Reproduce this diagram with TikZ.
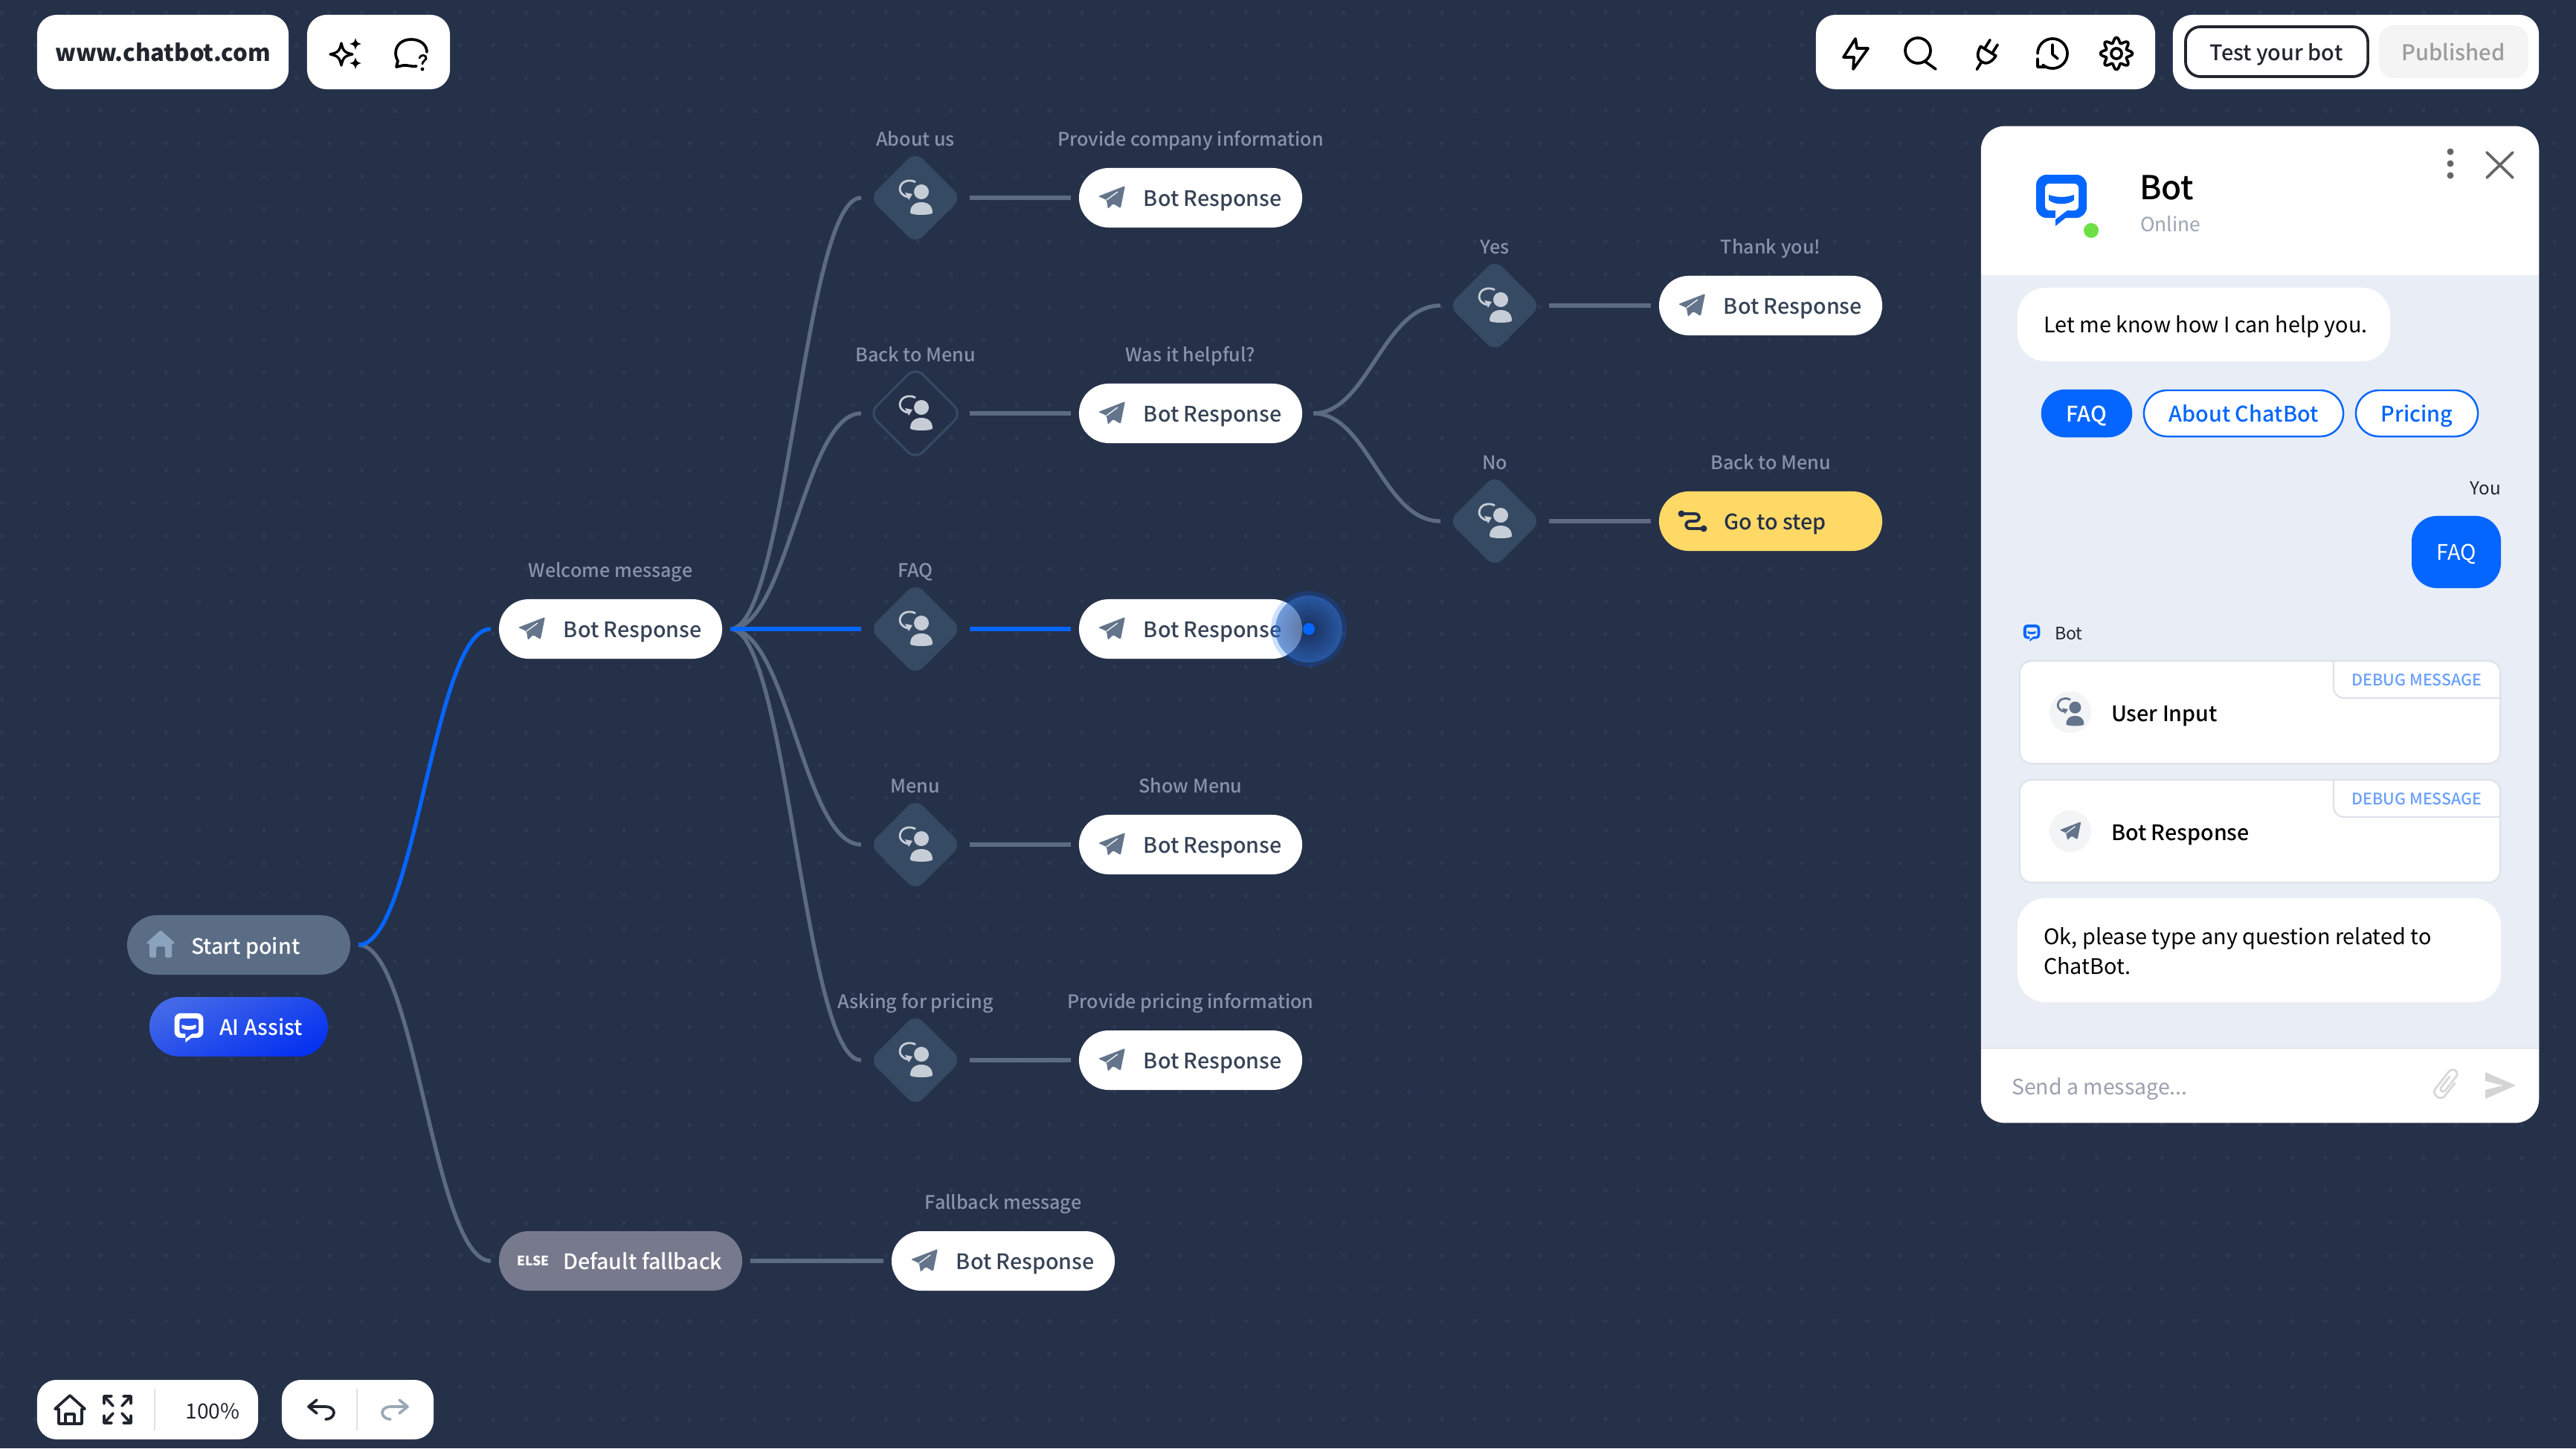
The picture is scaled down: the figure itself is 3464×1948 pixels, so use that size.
\documentclass[tikz,border=0pt]{standalone}
\usepackage{fontspec}
\setmainfont{Noto Sans CJK SC}
\newfontfamily\med{Noto Sans CJK SC Medium}
\usetikzlibrary{calc,shapes.geometric}
\definecolor{bgc}{HTML}{253049}
\definecolor{griddot}{HTML}{2E3A54}
\definecolor{conc}{HTML}{5C6B82}
\definecolor{blu}{HTML}{0566FF}
\definecolor{lab}{HTML}{8693A8}
\definecolor{inkc}{HTML}{364356}
\definecolor{diac}{HTML}{364A63}
\definecolor{dico}{HTML}{C6CDD7}
\definecolor{panelc}{HTML}{E9EDF5}
\definecolor{dark}{HTML}{21252E}
\definecolor{bord}{HTML}{DDE2EA}
\definecolor{icc}{HTML}{64748B}
\definecolor{icb}{HTML}{FFFFFF}
\definecolor{greyx}{HTML}{666666}
\def\logor{.14cm}\def\logoi{.06cm}
\tikzset{
 every node/.style={inner sep=0pt,outer sep=0pt},
 pill/.style={rectangle,rounded corners=.399cm,minimum width=3cm,minimum height=.8cm},
 bar/.style={rectangle,fill=white,rounded corners=.26cm},
 dia/.style={diamond,fill=diac,minimum width=1.24cm,minimum height=1.24cm,aspect=1,rounded corners=.14cm},
 conn/.style={draw=conc,line width=1.5pt,shorten <=.11cm,shorten >=.11cm},
 active/.style={conn,draw=blu},
 stepname/.style={anchor=base west,font=\med\fontsize{8.15}{10}\selectfont,text=inkc},
 caption/.style={anchor=base,font=\med\fontsize{7.15}{9}\selectfont,text=lab},
 chat/.style={anchor=base west,font=\fontsize{8.2}{11.4}\selectfont,text=black},
 cardc/.style={rectangle,fill=white,draw=bord,line width=.6pt,rounded corners=.16cm},
 bubble/.style={rectangle,fill=white,rounded corners=.38cm},
 chip/.style={rectangle,fill=white,draw=blu,line width=.7pt,rounded corners=.31cm,minimum height=.62cm},
 chipt/.style={anchor=base,text=blu,font=\med\fontsize{8.2}{10}\selectfont},
 tool/.style={draw=black,line width=1.05pt,line cap=round,line join=round},
 tooldark/.style={draw=dark,line width=1.05pt,line cap=round,line join=round},
 plane/.pic={
  \fill[icc,rounded corners=.4pt] (18,-16)--(-18,-2)--(-7,3)--(-5,15)--(2,8)--(12,14)--cycle;
  \draw[icb,line width=.35pt] (-7,3)--(8,-8);
 },
 userin/.pic={
  \fill[icc] (8,-8) circle[radius=10];
  \fill[icc] (-7,20) .. controls (-7,10) and (0,6) .. (8,6) .. controls (16,6) and (23,10) .. (23,20) .. controls (23,24) and (-7,24) .. (-7,20) -- cycle;
  \draw[icc,line width=.8pt] (0,-21) .. controls (-6,-25) and (-20,-24) .. (-21,-12) .. controls (-21,-7) and (-17,-3) .. (-11,-1);
  \fill[icc] (-14,-7)--(-4,-5)--(-9,3)--cycle;
 },
 botlogo/.pic={
  \fill[icc,rounded corners=\logor] (-34,-30) rectangle (34,28);
  \fill[icc] (-8,27)--(-8,39)--(7,27)--cycle;
  \fill[icb,rounded corners=\logoi] (-22,-18) rectangle (23,18);
  \fill[icb] (-8,17)--(-8,30)--(9,17)--cycle;
  \fill[icc] (-17,-3) .. controls (-5,1) and (5,1) .. (17,-3) -- (17,4) .. controls (10,11) and (-10,11) .. (-17,4) -- cycle;
 },
 fourstar/.pic={
  \path[pic actions] (0,-1) .. controls (.15,-.3) and (.3,-.15) .. (1,0) .. controls (.3,.15) and (.15,.3) .. (0,1) .. controls (-.15,.3) and (-.3,.15) .. (-1,0) .. controls (-.3,-.15) and (-.15,-.3) .. (0,-1) -- cycle;
 },
}
% pill + icon + text + caption
\newcommand\respnode[5]{% id, x, y, text, caption
 \node[pill,fill=white] (#1) at (#2,#3) {};
 \pic at ($(#1.west)+(44,0)$) {plane};
 \node[stepname] (#1t) at ($(#1.west)+(87,11)$) {#4};
 \node[caption] (#1c) at ($(#1.center)+(0,-70)$) {#5};
}
\newcommand\dianode[5][]{% style, id,x,y,caption
 \node[dia,#1] (#2) at (#3,#4) {};
 \begingroup\colorlet{icc}{dico}
 \pic at (#2.center) {userin};
 \endgroup
 \node[caption] (#2c) at ($(#2.center)+(0,-70)$) {#5};
}
\newcommand\debugcard[4]{% id, top y, text, icon
 \node[cardc,minimum width=6.46cm,minimum height=1.38cm] (#1) at (3039,#2+69) {};
 \draw[bord,line width=.6pt,rounded corners=.14cm] (3138,#2+1) -- (3138,#2+50) -- (3361,#2+50);
 \node[anchor=base,font=\med\fontsize{6.1}{8}\selectfont,text={rgb,255:red,106;green,160;blue,250}] (#1d) at (3250,#2+33) {DEBUG MESSAGE};
 \fill[fill={rgb,255:red,243;green,244;blue,246}] (2784,#2+69) circle[radius=28];
 \node[chat,font=\med\fontsize{8.15}{10}\selectfont] (#1t) at (2839,#2+81) {#3};
 \begingroup\definecolor{icb}{HTML}{F3F4F6}
 \pic[scale=.8] at (2784,#2+69) {#4};
 \endgroup
}
\begin{document}
\begin{tikzpicture}[x=.01cm,y=-.01cm]
\useasboundingbox (0,0) rectangle (3464,1948);
\fill[bgc] (0,0) rectangle (3464,1948);
\foreach \i in {0,...,78}{\foreach \j in {0,...,44}{\fill[griddot] ({3+44*\i},{17+44*\j}) circle[radius=2.8];}}

% nodes of the flow
\node[pill,fill={rgb,255:red,91;green,109;blue,133}] (start) at (321,1271) {};
\begin{scope}[shift={(216,1270)}]
\fill[fill={rgb,255:red,139;green,163;blue,189},rounded corners=.5pt] (0,-19)--(20,-1)--(15,-1)--(15,18)--(6,18)--(6,3)--(-6,3)--(-6,18)--(-15,18)--(-15,-1)--(-20,-1)--cycle;
\end{scope}
\node[stepname,text=white] (startt) at (257,1283) {Start point};
\node[pill,minimum width=2.4cm,top color={rgb,255:red,66;green,104;blue,232},bottom color={rgb,255:red,6;green,50;blue,240},shading angle=25] (ai) at (321,1381) {};
\begingroup
\colorlet{icc}{white}\definecolor{icb}{HTML}{2A52EC}\def\logor{.08cm}\def\logoi{.035cm}
\pic[scale=.57] at (254,1380) {botlogo};
\endgroup
\node[stepname,text=white] (ait) at (295,1392) {AI Assist};

\respnode{w}{821}{846}{Bot Response}{Welcome message}
\dianode{d1}{1231}{266}{About us}
\dianode[fill=bgc,draw=diac,line width=.9pt]{d2}{1231}{556}{Back to Menu}
\dianode{d3}{1231}{846}{FAQ}
\dianode{d4}{1231}{1136}{Menu}
\dianode{d5}{1231}{1426}{Asking for pricing}
\respnode{b1}{1601}{266}{Bot Response}{Provide company information}
\respnode{b2}{1601}{556}{Bot Response}{Was it helpful?}
\respnode{b3}{1601}{846}{Bot Response}{}
\respnode{b4}{1601}{1136}{Bot Response}{Show Menu}
\respnode{b5}{1601}{1426}{Bot Response}{Provide pricing information}
\dianode{d6}{2010}{411}{Yes}
\dianode{d7}{2010}{701}{No}
\respnode{b6}{2381}{411}{Bot Response}{Thank you!}
\node[pill,fill={rgb,255:red,255;green,217;blue,102}] (go) at (2381,701) {};
\node[caption] (goc) at (2381,631) {Back to Menu};
\node[stepname,text=bgc] (got) at (2318,712) {Go to step};
\draw[bgc,line width=1.1pt,line cap=round,line join=round] (2261,691)--(2279,691) .. controls (2287,691) and (2287,701) .. (2279,701) -- (2273,701) .. controls (2265,701) and (2265,711) .. (2273,711) -- (2291,711);
\fill[bgc] (2261,691) circle[radius=4.5] (2291,711) circle[radius=4.5];
\node[pill,minimum width=3.27cm,fill={rgb,255:red,119;green,122;blue,140}] (else) at (834.5,1696) {};
\node[anchor=base west,font=\bfseries\fontsize{5}{6}\selectfont,text=white] (elset) at (695,1702) {ELSE};
\node[stepname,text=white] (elsen) at (757,1707) {Default fallback};
\respnode{fb}{1349}{1696}{Bot Response}{Fallback message}

% connectors
\draw[conn] (start.east) .. controls +(88,0) and +(-88,0) .. (else.west);
\draw[active] (start.east) .. controls +(88,0) and +(-88,0) .. (w.west);
\foreach \t in {d1,d2,d4,d5}{\draw[conn] (w.east) .. controls +(88,0) and +(-88,0) .. (\t.west);}
\draw[active] (w.east) -- (d3.west);
\foreach \a/\b in {d1/b1,d2/b2,d4/b4,d5/b5,d6/b6,d7/go,else/fb}{\draw[conn] (\a.east) -- (\b.west);}
\draw[active] (d3.east) -- (b3.west);
\foreach \t in {d6,d7}{\draw[conn,shorten <=.15cm] (b2.east) .. controls +(88,0) and +(-88,0) .. (\t.west);}

% pulse
\fill[blu,opacity=.2] (1760,846) circle[radius=51];
\shade[opacity=.6,inner color={rgb,255:red,22;green,40;blue,82},outer color={rgb,255:red,48;green,108;blue,198}] (1760,846) circle[radius=45];
\fill[blu] (1760,846) circle[radius=8];

% top left
\node[bar,minimum width=3.38cm,minimum height=1cm] (url) at (219,70) {};
\node[anchor=base,font=\bfseries\fontsize{8.85}{11}\selectfont,text=dark] (urlt) at (219,82) {www.chatbot.com};
\node[bar,minimum width=1.92cm,minimum height=1cm] (tl) at (509,70) {};
\pic[draw=black,line width=.95pt,line join=round,scale=15] at (459,73) {fourstar};
\pic[fill=black,scale=8] at (478,59) {fourstar};
\pic[fill=black,scale=8] at (478,85) {fourstar};
\draw[tool] (574,70) .. controls (574,60) and (565,53) .. (553,53) .. controls (541,53) and (532,60) .. (532,72) .. controls (532,76) and (534,80) .. (535,82) -- (533,90) -- (542,88) .. controls (548,87) and (552,90) .. (560,89);
\draw[black,line width=.8pt,line cap=round] (564,78) .. controls (565,73) and (574,73) .. (573,79) .. controls (572,82) and (568,82) .. (568,86);
\fill[black] (568,93) circle[radius=2.4];

% top right
\node[bar,minimum width=4.56cm,minimum height=1cm] (tools) at (2670,70) {};
\draw[tool] (2495,52)--(2479,77)--(2493,77)--(2492,93)--(2512,65)--(2497,65)--cycle;
\draw[tool] (2579,68) circle[radius=17] (2589,83)--(2603,93);
\begin{scope}[shift={(2671,73)},rotate=-32]
\draw[tool] (-12,-5)--(12,-5) .. controls (12,7) and (6,12) .. (0,12) .. controls (-6,12) and (-12,7) .. (-12,-5) -- cycle;
\draw[tool] (-6,-6)--(-6,-19) (6,-6)--(6,-19) (0,12)--(0,24);
\end{scope}
\draw[tool] (2740,72) arc[start angle=180,end angle=490,radius=20];
\draw[tool] (2740,79)--(2740,90)--(2751,90) (2760,60)--(2760,73)--(2767,79);
\draw[tool] plot[domain=0:360,samples=97] ({2846+(18+3.5*cos(8*\x))*cos(\x)},{72+(18+3.5*cos(8*\x))*sin(\x)}) -- cycle;
\draw[tool] (2846,72) circle[radius=7];
\node[bar,minimum width=4.92cm,minimum height=1cm] (pubbar) at (3168,70) {};
\node[rectangle,draw=dark,fill=white,line width=1.05pt,rounded corners=.2cm,minimum width=2.45cm,minimum height=.67cm] (test) at (3061.5,69.5) {};
\node[anchor=base,font=\med\fontsize{8.2}{10}\selectfont,text=dark] (testt) at (3061,81) {Test your bot};
\node[rectangle,fill={rgb,255:red,244;green,244;blue,244},rounded corners=.2cm,minimum width=2.01cm,minimum height=.71cm] (pub) at (3299.5,69.5) {};
\node[anchor=base,font=\med\fontsize{8.3}{10}\selectfont,text={rgb,255:red,156;green,156;blue,156}] (pubt) at (3299,81) {Published};

% chat panel
\node[rectangle,fill=white,rounded corners=.32cm,minimum width=7.5cm,minimum height=13.4cm] (panel) at (3039,840) {};
\fill[panelc] (2664,370) rectangle (3414,1410);
\begingroup\colorlet{icc}{blu}
\pic at (2772,265) {botlogo};
\endgroup
\fill[fill={rgb,255:red,108;green,224;blue,68}] (2812,310) circle[radius=10];
\node[anchor=base west,font=\med\fontsize{12.6}{15}\selectfont,text=black] (title) at (2877,268) {Bot};
\node[anchor=base west,font=\fontsize{7.5}{9}\selectfont,text={rgb,255:red,155;green,165;blue,180}] (online) at (2878,311) {Online};
\fill[greyx] (3295,204) circle[radius=4.5] (3295,220) circle[radius=4.5] (3295,236) circle[radius=4.5];
\draw[greyx,line width=1.05pt,line cap=round] (3344,205)--(3379,239) (3379,205)--(3344,239);

\node[bubble,minimum width=5.01cm,minimum height=.99cm] (msg) at (2963.5,436.5) {};
\node[chat] (msgt) at (2748,447) {Let me know how I can help you.};
\node[chip,fill=blu,minimum width=1.2cm] (c1) at (2806,556) {};
\node[chipt,text=white] (c1t) at (2806,567) {FAQ};
\node[chip,minimum width=2.68cm] (c2) at (3017,556) {};
\node[chipt] (c2t) at (3017,567) {About ChatBot};
\node[chip,minimum width=1.64cm] (c3) at (3250,556) {};
\node[chipt] (c3t) at (3250,567) {Pricing};
\node[anchor=base east,font=\fontsize{6.9}{9}\selectfont,text=dark] (you) at (3363,665) {You};
\node[rectangle,fill=blu,rounded corners=.34cm,minimum width=1.2cm,minimum height=.97cm] (faq) at (3303,742.5) {};
\node[anchor=base,font=\fontsize{8.2}{10}\selectfont,text=white] (faqt) at (3303,753) {FAQ};
\begingroup\colorlet{icc}{blu}\colorlet{icb}{panelc}\def\logor{.05cm}\def\logoi{.02cm}
\pic[scale=.33] at (2732,850) {botlogo};
\endgroup
\node[anchor=base west,font=\fontsize{6.6}{8}\selectfont,text=dark] (botl) at (2763,860) {Bot};
\debugcard{k1}{889}{User Input}{userin}
\debugcard{k2}{1049}{Bot Response}{plane}
\node[bubble,minimum width=6.5cm,minimum height=1.4cm] (ans) at (3038,1278) {};
\node[chat,anchor=base west] (anst1) at (2748,1270) {Ok, please type any question related to};
\node[chat,anchor=base west] (anst2) at (2748,1310) {ChatBot.};
\draw[draw={rgb,255:red,228;green,230;blue,234},line width=.4pt] (2664,1410)--(3414,1410);
\node[anchor=base west,font=\fontsize{8.1}{10}\selectfont,text={rgb,255:red,155;green,160;blue,175}] (inp) at (2705,1472) {Send a message...};
\begin{scope}[shift={(3290,1458)},rotate=-38]
\draw[draw={rgb,255:red,216;green,216;blue,216},line width=.8pt,line cap=round] (8,-8) -- (8,14) .. controls (8,24) and (-8,24) .. (-8,14) -- (-8,-14) .. controls (-8,-24) and (5,-24) .. (4,-14) -- (4,8) .. controls (4,13) and (-3,13) .. (-3,8) -- (-3,-10);
\end{scope}
\fill[fill={rgb,255:red,212;green,212;blue,212}] (3342,1442)--(3383,1460)--(3342,1478)--(3342,1466)--(3366,1460)--(3342,1454)--cycle;

% bottom left
\node[bar,minimum width=2.97cm,minimum height=.8cm] (zoombar) at (198.5,1896) {};
\begin{scope}[shift={(94,1896)}]
\draw[tooldark] (0,-19)--(-20,-1)--(-15,-1)--(-15,19)--(16,19)--(16,-1)--(20,-1)--cycle;
\draw[tooldark] (-6,19)--(-6,6)--(6,6)--(6,19);
\end{scope}
\begin{scope}[shift={(158,1896)}]
\foreach \sx/\sy in {1/1,1/-1,-1/1,-1/-1}{
\draw[tooldark] (\sx*18,\sy*8)--(\sx*18,\sy*18)--(\sx*8,\sy*18) (\sx*18,\sy*18)--(\sx*6,\sy*5);}
\end{scope}
\draw[bord,line width=.6pt] (208,1868)--(208,1924);
\node[anchor=base,font=\fontsize{8}{10}\selectfont,text=dark] (pct) at (286,1908) {100\%};
\node[bar,minimum width=2.04cm,minimum height=.8cm] (hist) at (481,1896) {};
\draw[bord,line width=.6pt] (480,1868)--(480,1924);
\begin{scope}[shift={(432,1896)}]
\draw[tooldark] (-6,-13)--(-17,-4)--(-6,5) (-17,-4)--(6,-4) .. controls (13,-4) and (17,0) .. (17,4) .. controls (17,9) and (12,13) .. (6,13);
\end{scope}
\begin{scope}[shift={(531,1896)},xscale=-1]
\draw[tooldark,draw={rgb,255:red,154;green,168;blue,184}] (-6,-13)--(-17,-4)--(-6,5) (-17,-4)--(6,-4) .. controls (13,-4) and (17,0) .. (17,4) .. controls (17,9) and (12,13) .. (6,13);
\end{scope}
\end{tikzpicture}
\end{document}
